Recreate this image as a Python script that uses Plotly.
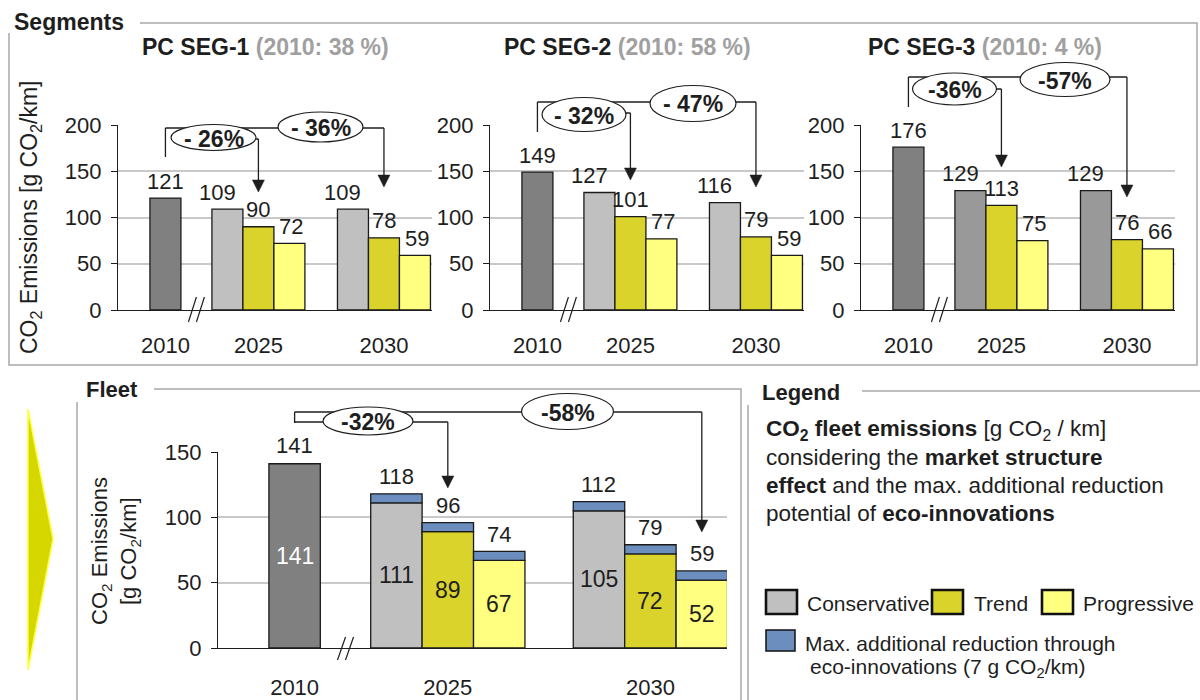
import plotly.graph_objects as go

# ---------------- data ----------------
YEARS = ["2010", "2025", "2030"]
SCENARIOS = ["Conservative", "Trend", "Progressive"]
SEGMENTS = ["PC SEG-1", "PC SEG-2", "PC SEG-3"]
SHARE_2010 = [38, 58, 4]                      # market share in 2010 [%]

SEG_2010 = [121, 149, 176]                    # g CO2/km
SEG_CONSERVATIVE = [[109, 109], [127, 116], [129, 129]]   # 2025, 2030
SEG_TREND = [[90, 78], [101, 79], [113, 76]]
SEG_PROGRESSIVE = [[72, 59], [77, 59], [75, 66]]
SEG_REDUCTION = [[-26, -36], [-32, -47], [-36, -57]]      # 2010 -> Trend 2025 / 2030 [%]

FLEET_2010 = 141
FLEET_CONSERVATIVE = [111, 105]
FLEET_TREND = [89, 72]
FLEET_PROGRESSIVE = [67, 52]
ECO_INNOVATION = 7                            # extra reduction potential, g CO2/km
FLEET_REDUCTION = [-32, -58]                  # 2010 -> Trend 2025 / Progressive 2030 [%]

LEGEND_LINES = [
    "<b>CO<sub>2</sub> fleet emissions</b> [g CO<sub>2</sub> / km]",
    "considering the <b>market structure</b>",
    "<b>effect</b> and the max. additional reduction",
    "potential of <b>eco-innovations</b>",
]

# ---------------- style ----------------
W, H = 1200, 700
FONT = "Arial, 'Liberation Sans', Helvetica, sans-serif"
INK = "#1e1e1e"
FRAME = "#a8a8a8"
GRID = "#c9c9c9"
COL_2010 = "#808080"
COL_CONS = "#c0c0c0"
COL_CONS_SEG3 = "#999999"
COL_TREND = "#d9d32b"
COL_PROG = "#ffff80"
COL_ECO = "#6b8ebf"
OUTLINE = dict(color="#1a1a1a", width=1.3)


def X(px):
    return px / W


def Y(py):
    return 1 - py / H


TOP_X_PX = [(118, 432), (490, 804), (861, 1175)]
TOP_Y_PX = (125, 310)
FLEET_X_PX = (218, 727)
FLEET_Y_PX = (452, 648)

TOP_POS = {"2010": 1.53, "2025": [3.53, 4.53, 5.53], "2030": [7.58, 8.58, 9.58], "span": 10.13, "brk": 2.53}
FLEET_POS = {"2010": 1.49, "2025": [3.47, 4.47, 5.47], "2030": [7.41, 8.41, 9.41], "span": 9.9, "brk": 2.48}

fig = go.Figure()
shapes = []
annotations = []


def ann(text, x, y, xref="paper", yref="paper", size=21, color=INK, **kw):
    d = dict(text=text, x=x, y=y, xref=xref, yref=yref, showarrow=False,
             font=dict(family=FONT, size=size, color=color))
    d.update(kw)
    annotations.append(d)


def bar(x, y, color, xa, ya, base=None):
    fig.add_trace(go.Bar(x=x, y=y, base=base, width=1, marker=dict(color=color, line=OUTLINE),
                         xaxis=xa, yaxis=ya, hoverinfo="skip", showlegend=False))


def pct(v, spaced):
    return f"- {abs(v)}%" if spaced else f"-{abs(v)}%"


def line_px(xa, xpos, x0, x1, y0, y1, width=1.3):
    shapes.append(dict(type="line", xref=xa, xsizemode="pixel", xanchor=xpos, x0=x0, x1=x1,
                       yref="paper", y0=Y(y0), y1=Y(y1), line=dict(color=INK, width=width), layer="above"))


def hline(xa, xa0, xa1, y):
    shapes.append(dict(type="line", xref=xa, x0=xa0, x1=xa1, yref="paper", y0=Y(y), y1=Y(y),
                       line=dict(color=INK, width=1.3), layer="above"))


def arrow_down(xa, xpos, y_start, y_tip):
    line_px(xa, xpos, 0, 0, y_start, y_tip - 10)
    shapes.append(dict(type="path", xref=xa, xsizemode="pixel", xanchor=xpos, yref="paper",
                       path=f"M -6,{Y(y_tip - 12)} L 6,{Y(y_tip - 12)} L 0,{Y(y_tip)} Z",
                       fillcolor=INK, line=dict(color=INK, width=0.5), layer="above"))


def ellipse(cx, cy, rx, ry, text):
    shapes.append(dict(type="circle", xref="paper", yref="paper", x0=X(cx - rx), x1=X(cx + rx),
                       y0=Y(cy + ry), y1=Y(cy - ry), fillcolor="white",
                       line=dict(color=INK, width=1.2), layer="above"))
    ann(f"<b>{text}</b>", X(cx), Y(cy + 1), size=23, xanchor="center", yanchor="middle")


def break_mark(xa, xpos, y_low, y_high):
    shapes.append(dict(type="path", xref=xa, xsizemode="pixel", xanchor=xpos, yref="paper",
                       path=f"M -8,{Y(y_low)} L 0,{Y(y_high)} M 0,{Y(y_low)} L 8,{Y(y_high)}",
                       line=dict(color=INK, width=1.2), layer="above"))


layout_axes = {}

# ---------------- segment panels ----------------
TOP_ARROWS = [
    dict(top=128, low=157, tipA=192, tipB=187, elbowA=139, ellA=(213.5, 137.5, 42.5, 13), ellB=(320.5, 127, 42.5, 15)),
    dict(top=102, low=132, tipA=180, tipB=187, elbowA=113, ellA=(584, 114.5, 42, 17), ellB=(693, 103.5, 43, 18)),
    dict(top=77, low=107, tipA=167, tipB=197, elbowA=89, ellA=(954.5, 89, 42, 16), ellB=(1065, 79.5, 45, 17)),
]
TITLE_X = [265, 627, 985]
SPACED = [True, True, False]

for i in range(3):
    n = "" if i == 0 else str(i + 1)
    xa, ya = "x" + n, "y" + n
    p = TOP_POS
    cons_col = COL_CONS_SEG3 if i == 2 else COL_CONS
    bar([p["2010"]], [SEG_2010[i]], COL_2010, xa, ya)
    series = [SEG_CONSERVATIVE[i], SEG_TREND[i], SEG_PROGRESSIVE[i]]
    cols = [cons_col, COL_TREND, COL_PROG]
    shifts = [-10, 0, 2]
    for k in range(3):
        xs = [p["2025"][k], p["2030"][k]]
        bar(xs, series[k], cols[k], xa, ya)
        for xv, yv in zip(xs, series[k]):
            ann(str(yv), xv, yv, xref=xa, yref=ya, size=22, yanchor="middle", xshift=shifts[k], yshift=17)
    ann(str(SEG_2010[i]), p["2010"], SEG_2010[i], xref=xa, yref=ya, size=22, yanchor="middle", yshift=17)

    l, r = TOP_X_PX[i]
    layout_axes["xaxis" + n] = dict(
        domain=[X(l), X(r)], range=[0, p["span"]], anchor=ya, showline=True, linecolor=INK, linewidth=1.3,
        ticks="", tickvals=[p["2010"], p["2025"][1], p["2030"][1]], ticktext=YEARS,
        tickfont=dict(family=FONT, size=22, color=INK), ticklabelstandoff=15, automargin=False,
        showgrid=False, zeroline=False, fixedrange=True)
    layout_axes["yaxis" + n] = dict(
        domain=[Y(TOP_Y_PX[1]), Y(TOP_Y_PX[0])], range=[0, 200], tick0=0, dtick=50, anchor=xa,
        showline=True, linecolor=INK, linewidth=1.3, ticks="outside", ticklen=6, tickcolor=INK,
        tickfont=dict(family=FONT, size=22, color=INK), ticklabelstandoff=5, automargin=False,
        showgrid=True, gridcolor=GRID, gridwidth=1.5, zeroline=False, fixedrange=True)

    # panel title
    ann(f"<b>{SEGMENTS[i]} <span style='color:#a0a0a0'>(2010: {SHARE_2010[i]} %)</span></b>",
        X(TITLE_X[i]), Y(47), size=23, xanchor="center", yanchor="middle")

    # reduction brackets and arrows
    a = TOP_ARROWS[i]
    tA, tB = p["2025"][1], p["2030"][1]
    line_px(xa, p["2010"], 0, 0, a["low"], a["top"])
    hline(xa, p["2010"], tB, a["top"])
    arrow_down(xa, tB, a["top"], a["tipB"])
    line_px(xa, tA, -40, 0, a["elbowA"], a["elbowA"])
    arrow_down(xa, tA, a["elbowA"], a["tipA"])
    ellipse(*a["ellA"], pct(SEG_REDUCTION[i][0], SPACED[i]))
    ellipse(*a["ellB"], pct(SEG_REDUCTION[i][1], SPACED[i]))
    break_mark(xa, p["brk"], 322, 297)

ann("CO<sub>2</sub> Emissions [g CO<sub>2</sub>/km]", X(30), Y(217), size=23,
    textangle=-90, xanchor="center", yanchor="middle")

# ---------------- fleet panel ----------------
xa, ya = "x4", "y4"
p = FLEET_POS
bar([p["2010"]], [FLEET_2010], COL_2010, xa, ya)
fleet_series = [FLEET_CONSERVATIVE, FLEET_TREND, FLEET_PROGRESSIVE]
fleet_cols = [COL_CONS, COL_TREND, COL_PROG]
for k in range(3):
    xs = [p["2025"][k], p["2030"][k]]
    bar(xs, fleet_series[k], fleet_cols[k], xa, ya)
    bar(xs, [ECO_INNOVATION] * 2, COL_ECO, xa, ya, base=fleet_series[k])
    for xv, yv in zip(xs, fleet_series[k]):
        ann(str(yv), xv, yv / 2, xref=xa, yref=ya, size=23, yanchor="middle")
        ann(str(yv + ECO_INNOVATION), xv, yv + ECO_INNOVATION, xref=xa, yref=ya, size=22,
            yanchor="middle", yshift=17)
ann(str(FLEET_2010), p["2010"], FLEET_2010 / 2, xref=xa, yref=ya, size=23, color="white", yanchor="middle")
ann(str(FLEET_2010), p["2010"], FLEET_2010, xref=xa, yref=ya, size=22, yanchor="middle", yshift=18)

layout_axes["xaxis4"] = dict(
    domain=[X(FLEET_X_PX[0]), X(FLEET_X_PX[1])], range=[0, p["span"]], anchor=ya, showline=True,
    linecolor=INK, linewidth=1.3, ticks="", tickvals=[p["2010"], p["2025"][1], p["2030"][1]],
    ticktext=YEARS, tickfont=dict(family=FONT, size=22, color=INK), ticklabelstandoff=19,
    automargin=False, showgrid=False, zeroline=False, fixedrange=True)
layout_axes["yaxis4"] = dict(
    domain=[Y(FLEET_Y_PX[1]), Y(FLEET_Y_PX[0])], range=[0, 150], tick0=0, dtick=50, anchor=xa,
    showline=True, linecolor=INK, linewidth=1.3, ticks="outside", ticklen=6, tickcolor=INK,
    tickfont=dict(family=FONT, size=22, color=INK), ticklabelstandoff=5, automargin=False,
    showgrid=True, gridcolor=GRID, gridwidth=1.5, zeroline=False, fixedrange=True)

ann("CO<sub>2</sub> Emissions", X(101), Y(551), size=22, textangle=-90, xanchor="center", yanchor="middle")
ann("[g CO<sub>2</sub>/km]", X(130), Y(551), size=22, textangle=-90, xanchor="center", yanchor="middle")

# fleet reduction brackets
line_px(xa, p["2010"], 0, 0, 423, 412)
hline(xa, p["2010"], p["2030"][2], 412)
arrow_down(xa, p["2030"][2], 412, 532)
hline(xa, p["2010"], p["2025"][1], 422)
arrow_down(xa, p["2025"][1], 422, 488)
ellipse(368, 421, 45, 14, pct(FLEET_REDUCTION[0], False))
ellipse(567.5, 411.5, 46, 18, pct(FLEET_REDUCTION[1], False))
break_mark(xa, p["brk"], 660, 637)

# ---------------- frames and headers ----------------
def frame(path):
    shapes.append(dict(type="path", xref="paper", yref="paper", path=path,
                       line=dict(color=FRAME, width=1.5), layer="below"))


frame(f"M {X(140)},{Y(23)} L {X(1197)},{Y(23)} L {X(1197)},{Y(365)} L {X(9)},{Y(365)} L {X(9)},{Y(33)}")
frame(f"M {X(154)},{Y(389)} L {X(741)},{Y(389)} L {X(741)},{Y(700)}")
frame(f"M {X(77)},{Y(402)} L {X(77)},{Y(700)}")
frame(f"M {X(862)},{Y(391)} L {X(1200)},{Y(391)}")
frame(f"M {X(748)},{Y(405)} L {X(748)},{Y(700)}")

ann("<b>Segments</b>", X(12), Y(22), size=23, xanchor="left", yanchor="middle")
ann("<b>Fleet</b>", X(84), Y(389), size=22, xanchor="left", yanchor="middle")
ann("<b>Legend</b>", X(760), Y(392), size=22, xanchor="left", yanchor="middle")

# transition chevron from segments to fleet
shapes.append(dict(type="path", xref="paper", yref="paper",
                   path=f"M {X(28)},{Y(409)} L {X(53)},{Y(539)} L {X(28)},{Y(670)} Z",
                   fillcolor="#d6d600", line=dict(color="#ffff3c", width=1.5), layer="above"))

# ---------------- legend ----------------
for j, txt in enumerate(LEGEND_LINES):
    ann(txt, X(764), Y(430 + 27.7 * j), size=22.5, xanchor="left", yanchor="middle", align="left")


def swatch(x0, x1, y0, y1, color, width):
    shapes.append(dict(type="rect", xref="paper", yref="paper", x0=X(x0), x1=X(x1), y0=Y(y1), y1=Y(y0),
                       fillcolor=color, line=dict(color="#111111", width=width), layer="above"))


legend_cols = [COL_CONS, COL_TREND, COL_PROG]
legend_box_x = [766, 932, 1042]
legend_text_x = [805, 972, 1081]
for k, name in enumerate(SCENARIOS):
    swatch(legend_box_x[k], legend_box_x[k] + 31, 590, 614, legend_cols[k], 2.6)
    ann(name, X(legend_text_x[k]), Y(603), size=21, xanchor="left", yanchor="middle")
swatch(766, 795, 630, 651, COL_ECO, 1.5)
ann("Max. additional reduction through", X(803), Y(643), size=21, xanchor="left", yanchor="middle")
ann(f"eco-innovations ({ECO_INNOVATION} g CO<sub>2</sub>/km)", X(808), Y(668), size=21,
    xanchor="left", yanchor="middle")

fig.update_layout(
    width=W, height=H, autosize=False, margin=dict(l=0, r=0, t=0, b=0, autoexpand=False),
    paper_bgcolor="white", plot_bgcolor="white", barmode="overlay",
    font=dict(family=FONT, color=INK), showlegend=False,
    shapes=shapes, annotations=annotations, **layout_axes)

fig.write_html("out.html", config={"displayModeBar": False})
